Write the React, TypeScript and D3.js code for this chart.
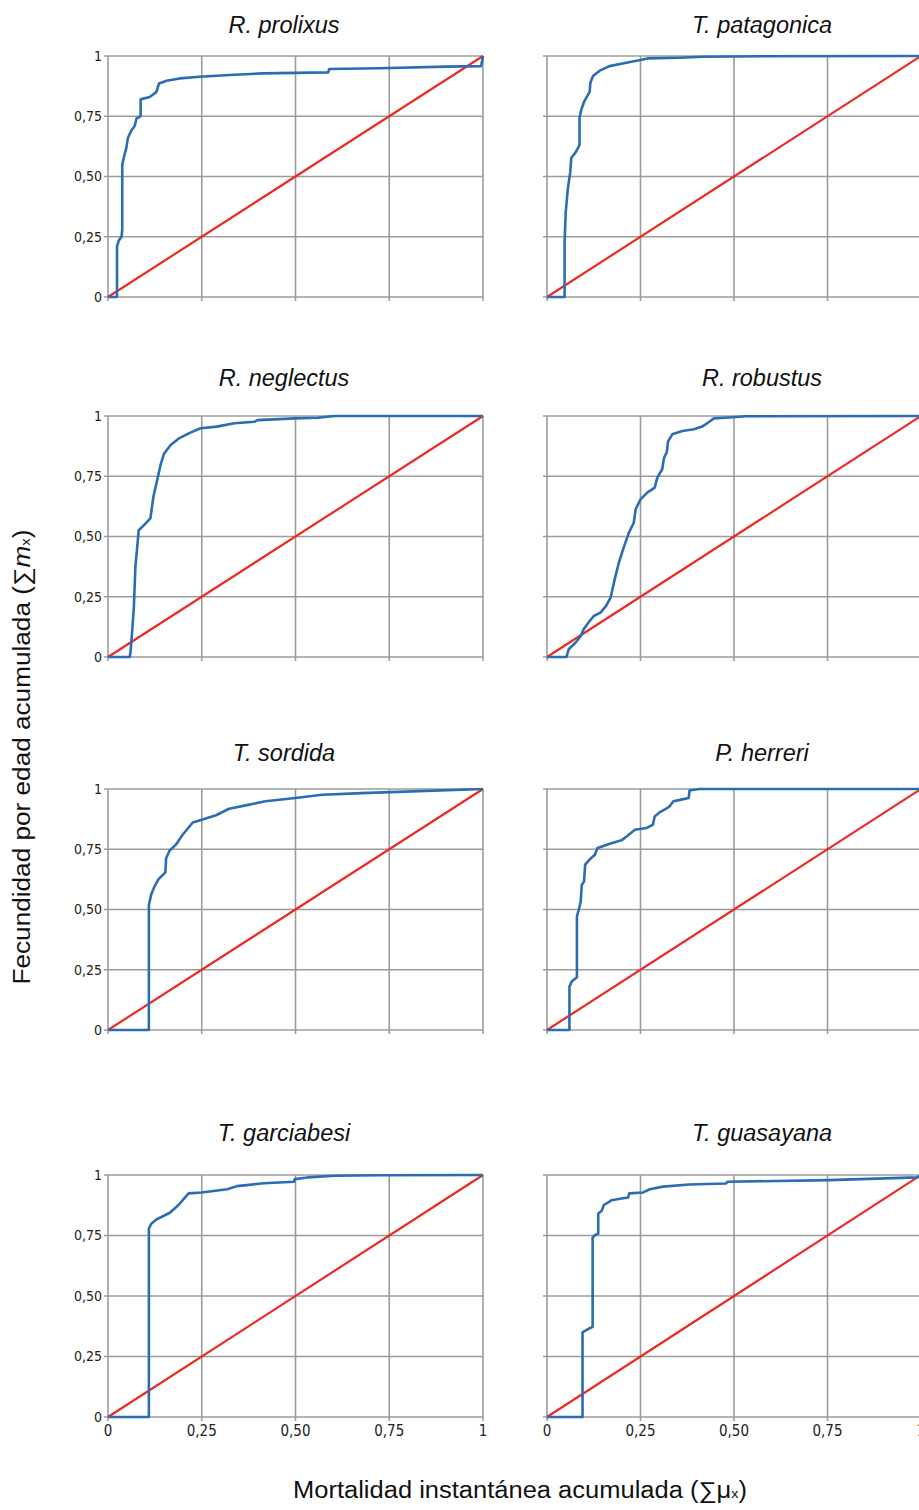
import React from "react";
import * as d3 from "d3";

// Species shown in each panel, row by row (left, right)
const species = [
  "R. prolixus", "T. patagonica",
  "R. neglectus", "R. robustus",
  "T. sordida", "P. herreri",
  "T. garciabesi", "T. guasayana",
];

// Cumulative instantaneous mortality (x) vs cumulative age-specific fecundity (y)
const prolixusX = [0, 0.024, 0.024, 0.029, 0.036, 0.038, 0.038, 0.044, 0.049, 0.053, 0.062, 0.071, 0.076, 0.087, 0.087, 0.111, 0.129, 0.136, 0.156, 0.191, 0.244, 0.324, 0.413, 0.587, 0.59, 0.724, 0.902, 0.995, 1];
const prolixusY = [0, 0, 0.21, 0.235, 0.25, 0.28, 0.55, 0.59, 0.62, 0.66, 0.69, 0.71, 0.74, 0.75, 0.82, 0.83, 0.85, 0.886, 0.897, 0.907, 0.914, 0.921, 0.928, 0.932, 0.946, 0.949, 0.956, 0.958, 1];

const patagonicaX = [0, 0.047, 0.047, 0.05, 0.056, 0.062, 0.065, 0.076, 0.087, 0.087, 0.092, 0.1, 0.114, 0.116, 0.123, 0.14, 0.167, 0.212, 0.247, 0.269, 0.354, 0.416, 0.576, 0.991, 1];
const patagonicaY = [0, 0, 0.225, 0.35, 0.454, 0.516, 0.578, 0.599, 0.63, 0.744, 0.779, 0.813, 0.851, 0.889, 0.917, 0.938, 0.958, 0.972, 0.982, 0.99, 0.993, 0.997, 0.999, 1, 1];

const neglectusX = [0, 0.058, 0.06, 0.064, 0.069, 0.073, 0.082, 0.096, 0.113, 0.121, 0.129, 0.14, 0.149, 0.167, 0.189, 0.221, 0.247, 0.29, 0.337, 0.39, 0.399, 0.497, 0.56, 0.604, 1];
const neglectusY = [0, 0, 0.021, 0.097, 0.208, 0.374, 0.526, 0.547, 0.575, 0.665, 0.72, 0.796, 0.842, 0.88, 0.907, 0.932, 0.949, 0.956, 0.97, 0.976, 0.983, 0.99, 0.993, 1, 1];

const robustusX = [0, 0.052, 0.058, 0.076, 0.089, 0.098, 0.112, 0.125, 0.143, 0.158, 0.17, 0.181, 0.192, 0.205, 0.219, 0.232, 0.237, 0.25, 0.268, 0.288, 0.295, 0.308, 0.313, 0.32, 0.324, 0.335, 0.362, 0.393, 0.415, 0.433, 0.446, 0.487, 0.531, 0.993, 1];
const robustusY = [0, 0, 0.032, 0.059, 0.084, 0.115, 0.145, 0.17, 0.184, 0.212, 0.246, 0.322, 0.391, 0.454, 0.516, 0.557, 0.613, 0.654, 0.682, 0.703, 0.744, 0.779, 0.827, 0.848, 0.896, 0.924, 0.938, 0.945, 0.956, 0.975, 0.99, 0.994, 0.999, 1, 1];

const sordidaX = [0, 0.109, 0.109, 0.115, 0.124, 0.135, 0.153, 0.155, 0.164, 0.181, 0.199, 0.226, 0.252, 0.288, 0.323, 0.367, 0.42, 0.5, 0.571, 0.677, 0.81, 1];
const sordidaY = [0, 0, 0.519, 0.561, 0.596, 0.626, 0.654, 0.713, 0.744, 0.769, 0.81, 0.861, 0.873, 0.891, 0.918, 0.932, 0.949, 0.963, 0.976, 0.983, 0.99, 1];

const herreriX = [0, 0.06, 0.06, 0.066, 0.08, 0.08, 0.087, 0.09, 0.093, 0.099, 0.102, 0.115, 0.128, 0.135, 0.168, 0.199, 0.213, 0.235, 0.266, 0.283, 0.288, 0.301, 0.314, 0.328, 0.338, 0.359, 0.379, 0.381, 0.407, 0.99, 1];
const herreriY = [0, 0, 0.18, 0.201, 0.219, 0.471, 0.512, 0.533, 0.602, 0.616, 0.686, 0.709, 0.727, 0.755, 0.773, 0.787, 0.803, 0.831, 0.838, 0.852, 0.886, 0.903, 0.914, 0.928, 0.949, 0.956, 0.963, 0.994, 1, 1, 1];

const garciabesiX = [0, 0.109, 0.109, 0.116, 0.13, 0.165, 0.188, 0.201, 0.215, 0.25, 0.318, 0.344, 0.416, 0.496, 0.498, 0.532, 0.604, 0.729, 1];
const garciabesiY = [0, 0, 0.779, 0.8, 0.817, 0.844, 0.876, 0.899, 0.924, 0.928, 0.941, 0.954, 0.966, 0.972, 0.983, 0.99, 0.997, 0.999, 1];

const guasayanaX = [0, 0.095, 0.095, 0.106, 0.122, 0.122, 0.128, 0.137, 0.137, 0.146, 0.152, 0.166, 0.173, 0.195, 0.217, 0.22, 0.257, 0.275, 0.31, 0.381, 0.478, 0.483, 0.753, 0.99, 1];
const guasayanaY = [0, 0, 0.35, 0.36, 0.373, 0.741, 0.751, 0.758, 0.841, 0.851, 0.876, 0.889, 0.896, 0.902, 0.907, 0.924, 0.928, 0.941, 0.952, 0.961, 0.965, 0.972, 0.979, 0.99, 1];

const seriesX = [prolixusX, patagonicaX, neglectusX, robustusX, sordidaX, herreriX, garciabesiX, guasayanaX];
const seriesY = [prolixusY, patagonicaY, neglectusY, robustusY, sordidaY, herreriY, garciabesiY, guasayanaY];

// Axis ticks and their labels (decimal comma)
const tickValues = [0, 0.25, 0.5, 0.75, 1];
const tickLabels = ["0", "0,25", "0,50", "0,75", "1"];

// Panel grid geometry
const columns = [
  { x0: 108, w: 375, titleX: 284 },
  { x0: 547, w: 374, titleX: 762 },
];
const rows = [
  { y0: 56, h: 241, titleY: 33 },
  { y0: 416, h: 241, titleY: 386 },
  { y0: 789, h: 241, titleY: 761 },
  { y0: 1175, h: 242, titleY: 1141 },
];

const GRID = "#9c9c9c";
const BLUE = "#2b6cb2";
const RED = "#ec2a22";
const FONT = "'Liberation Sans', Arial, sans-serif";
const NARROW = "'Liberation Sans Narrow', 'DejaVu Sans Condensed', 'Liberation Sans', sans-serif";

function Panel({ index }: { index: number }) {
  const col = columns[index % 2];
  const row = rows[Math.floor(index / 2)];
  const isLeft = index % 2 === 0;
  const isBottom = Math.floor(index / 2) === rows.length - 1;

  const x = d3.scaleLinear().domain([0, 1]).range([col.x0, col.x0 + col.w]);
  const y = d3.scaleLinear().domain([0, 1]).range([row.y0 + row.h, row.y0]);

  const pts: [number, number][] = seriesX[index].map((v, i) => [v, seriesY[index][i]]);
  const line = d3
    .line<[number, number]>()
    .x((d) => x(d[0]))
    .y((d) => y(d[1]));
  const diag = line([
    [0, 0],
    [1, 1],
  ]);

  return (
    <g>
      <text
        x={col.titleX}
        y={row.titleY}
        textAnchor="middle"
        fontFamily={FONT}
        fontStyle="italic"
        fontSize={23.5}
        fill="#111"
      >
        {species[index]}
      </text>
      {/* grid lines with short outer ticks */}
      {tickValues.map((t) => (
        <line
          key={"h" + t}
          x1={x(0) - 4}
          x2={x(1)}
          y1={y(t)}
          y2={y(t)}
          stroke={GRID}
          strokeWidth={1.6}
        />
      ))}
      {tickValues.map((t) => (
        <line
          key={"v" + t}
          x1={x(t)}
          x2={x(t)}
          y1={y(0) + 4}
          y2={y(1)}
          stroke={GRID}
          strokeWidth={1.6}
        />
      ))}
      {isLeft &&
        tickValues.map((t, i) => (
          <text
            key={"yl" + t}
            x={x(0) - 6}
            y={y(t)}
            dy="0.35em"
            textAnchor="end"
            fontFamily={NARROW}
            fontSize={14}
            fill="#222"
          >
            {tickLabels[i]}
          </text>
        ))}
      {isBottom &&
        tickValues.map((t, i) => (
          <text
            key={"xl" + t}
            x={x(t)}
            y={y(0) + 19}
            textAnchor="middle"
            fontFamily={NARROW}
            fontSize={15}
            fill="#222"
          >
            {tickLabels[i]}
          </text>
        ))}
      <path d={diag ?? ""} fill="none" stroke={RED} strokeWidth={2.2} />
      <path
        d={line(pts) ?? ""}
        fill="none"
        stroke={BLUE}
        strokeWidth={2.6}
        strokeLinejoin="round"
      />
    </g>
  );
}

export default function App() {
  return (
    <svg
      width={919}
      height={1510}
      style={{ position: "absolute", left: 0, top: 0, background: "#fff", overflow: "hidden" }}
    >
      <rect x={0} y={0} width={919} height={1510} fill="#fff" />
      {species.map((_, i) => (
        <Panel key={i} index={i} />
      ))}
      <text
        transform="translate(30,757) rotate(-90)"
        textAnchor="middle"
        fontFamily={FONT}
        fontSize={23}
        textLength={455}
        lengthAdjust="spacingAndGlyphs"
        fill="#111"
      >
        Fecundidad por edad acumulada (∑<tspan fontStyle="italic">m</tspan>
        <tspan fontSize={13}>x</tspan>)
      </text>
      <text
        x={520}
        y={1498}
        textAnchor="middle"
        fontFamily={FONT}
        fontSize={23}
        textLength={454}
        lengthAdjust="spacingAndGlyphs"
        fill="#111"
      >
        Mortalidad instantánea acumulada (∑μ<tspan fontSize={13}>x</tspan>)
      </text>
    </svg>
  );
}
